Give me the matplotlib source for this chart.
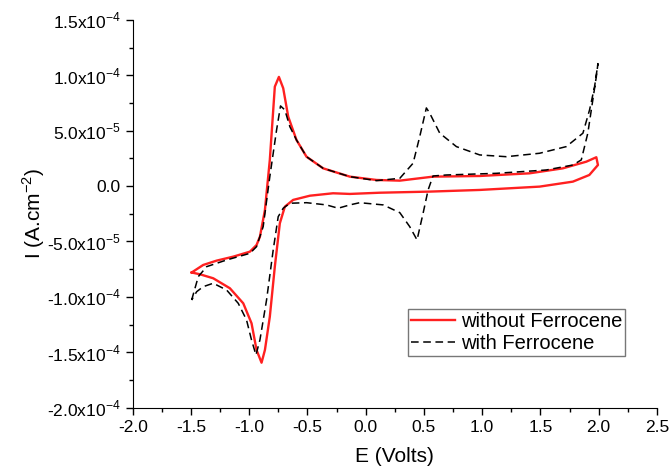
import matplotlib
matplotlib.use("Agg")
import matplotlib.pyplot as plt
from matplotlib.ticker import MultipleLocator, FuncFormatter
import numpy as np

plt.rcParams['font.family'] = ['Liberation Sans', 'DejaVu Sans']
plt.rcParams['mathtext.fontset'] = 'custom'
plt.rcParams['mathtext.rm'] = 'Liberation Sans'

# without Ferrocene (E in V, I in 1e-4 A/cm2)
E_red = [-1.494, -1.395, -1.28, -1.137, -0.994, -0.937, -0.908, -0.865, -0.823, -0.78,
         -0.745, -0.708, -0.665, -0.594, -0.508, -0.365, -0.136, 0.093, 0.293, 0.578,
         0.979, 1.407, 1.693, 1.894, 1.98, 1.994, 1.92, 1.779, 1.493, 0.979,
         0.55, 0.121, -0.136, -0.28, -0.479, -0.623, -0.694, -0.737, -0.78, -0.823,
         -0.865, -0.894, -0.937, -0.98, -1.051, -1.166, -1.309, -1.423, -1.494]
I_red = [-0.78, -0.712, -0.673, -0.637, -0.592, -0.532, -0.457, -0.216, 0.236, 0.897,
         0.985, 0.883, 0.626, 0.416, 0.265, 0.16, 0.085, 0.055, 0.049, 0.085,
         0.091, 0.115, 0.16, 0.22, 0.26, 0.19, 0.10, 0.04, -0.005, -0.035,
         -0.05, -0.06, -0.071, -0.065, -0.087, -0.125, -0.186, -0.336, -0.727, -1.179,
         -1.479, -1.594, -1.479, -1.238, -1.058, -0.922, -0.832, -0.796, -0.78]

# with Ferrocene
E_blk = [-1.494, -1.437, -1.365, -1.194, -0.994, -0.937, -0.88, -0.823, -0.765, -0.731,
         -0.694, -0.651, -0.594, -0.508, -0.365, -0.136, 0.093, 0.293, 0.407, 0.464,
         0.521, 0.55, 0.636, 0.779, 0.979, 1.207, 1.493, 1.722, 1.865, 1.922,
         1.965, 1.994, 1.98, 1.95, 1.907, 1.851, 1.779, 1.55, 1.122, 0.693,
         0.578, 0.536, 0.493, 0.441, 0.378, 0.293, 0.15, -0.051, -0.136, -0.236,
         -0.337, -0.508, -0.651, -0.708, -0.751, -0.794, -0.851, -0.908, -0.942, -0.98,
         -1.023, -1.094, -1.194, -1.309, -1.395, -1.451, -1.494]
I_blk = [-1.028, -0.817, -0.727, -0.667, -0.607, -0.547, -0.366, 0.085, 0.506, 0.723,
         0.687, 0.536, 0.416, 0.265, 0.16, 0.085, 0.049, 0.07, 0.206, 0.446,
         0.705, 0.657, 0.477, 0.356, 0.281, 0.265, 0.296, 0.356, 0.477, 0.687,
         0.897, 1.105, 0.987, 0.777, 0.477, 0.236, 0.19, 0.145, 0.115, 0.10,
         0.091, -0.035, -0.245, -0.486, -0.366, -0.24, -0.17, -0.15, -0.17, -0.2,
         -0.17, -0.15, -0.155, -0.2, -0.276, -0.577, -1.028, -1.389, -1.524, -1.389,
         -1.208, -1.058, -0.938, -0.877, -0.908, -0.953, -1.028]

fig = plt.figure(figsize=(6.72, 4.69), dpi=100)
ax = fig.add_axes([0.1975, 0.1307, 0.78, 0.827])

ax.plot(E_red, np.array(I_red) * 1e-4, color='#ff2020', lw=1.7, label='without Ferrocene')
ax.plot(E_blk, np.array(I_blk) * 1e-4, color='black', lw=1.1, ls=(0, (5, 3)),
        label='with Ferrocene')

ax.set_xlim(-2.0, 2.5)
ax.set_ylim(-2.0e-4, 1.5e-4)
ax.xaxis.set_major_locator(MultipleLocator(0.5))
ax.xaxis.set_minor_locator(MultipleLocator(0.25))
ax.yaxis.set_major_locator(MultipleLocator(5e-5))
ax.yaxis.set_minor_locator(MultipleLocator(2.5e-5))


def yfmt(v, pos):
    if abs(v) < 1e-12:
        return '0.0'
    exp = int(np.floor(np.log10(abs(v))))
    mant = v / 10 ** exp
    return '%.1fx10$^{%d}$' % (mant, exp)


ax.yaxis.set_major_formatter(FuncFormatter(yfmt))
ax.xaxis.set_major_formatter(FuncFormatter(lambda v, p: '%.1f' % v))

for s in ['top', 'right']:
    ax.spines[s].set_visible(False)
ax.tick_params(which='major', direction='out', length=5, width=1, labelsize=12.5)
ax.tick_params(which='minor', direction='out', length=3, width=1)

ax.set_xlabel('E (Volts)', fontsize=15, labelpad=9)
ax.set_ylabel('I (A.cm$^{-2}$)', fontsize=15, labelpad=0)

leg = ax.legend(loc='lower right', bbox_to_anchor=(0.94, 0.134), fontsize=14.5,
                frameon=True, fancybox=False, borderpad=0.15, handlelength=2.2,
                labelspacing=0.12, handletextpad=0.3, borderaxespad=0)
leg.get_frame().set_edgecolor('#555555')
leg.get_frame().set_linewidth(1.0)

fig.savefig('out.png', dpi=100)
